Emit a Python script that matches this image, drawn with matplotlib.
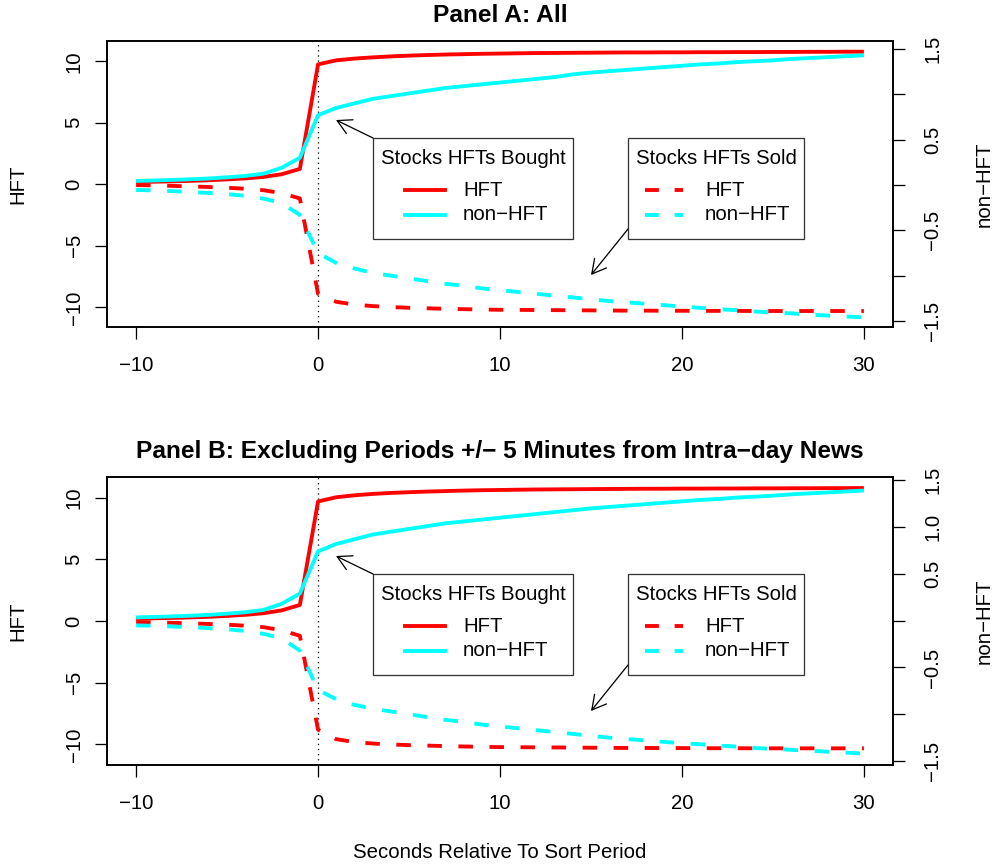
import matplotlib
matplotlib.use("Agg")
import matplotlib.pyplot as plt
from matplotlib.patches import Rectangle, FancyArrowPatch
from matplotlib.lines import Line2D

plt.rcParams['font.family'] = ['Liberation Sans', 'DejaVu Sans']

# ---------------- data ----------------
seconds = list(range(-10, 31))

# Panel A
a_hft_bought = [0.19, 0.21, 0.24, 0.28, 0.33, 0.40, 0.48, 0.60, 0.82, 1.25,
                9.75, 10.08, 10.22, 10.32, 10.40, 10.46, 10.51, 10.55, 10.58, 10.61,
                10.63, 10.65, 10.67, 10.68, 10.69, 10.70, 10.71, 10.72, 10.72, 10.73,
                10.73, 10.74, 10.74, 10.75, 10.75, 10.76, 10.76, 10.77, 10.77, 10.78, 10.78]
a_non_bought = [0.045, 0.05, 0.056, 0.063, 0.072, 0.085, 0.10, 0.125, 0.19, 0.30,
                0.77, 0.85, 0.90, 0.95, 0.98, 1.01, 1.04, 1.07, 1.09, 1.11,
                1.13, 1.15, 1.17, 1.19, 1.22, 1.24, 1.255, 1.27, 1.285, 1.30,
                1.315, 1.33, 1.34, 1.355, 1.365, 1.375, 1.39, 1.40, 1.41, 1.42, 1.43]
a_hft_sold = [-0.06, -0.09, -0.13, -0.17, -0.22, -0.28, -0.36, -0.48, -0.72, -1.15,
              -8.90, -9.55, -9.78, -9.90, -9.98, -10.04, -10.08, -10.12, -10.15, -10.18,
              -10.20, -10.21, -10.22, -10.23, -10.24, -10.25, -10.26, -10.27, -10.27, -10.28,
              -10.28, -10.29, -10.29, -10.29, -10.30, -10.30, -10.30, -10.30, -10.30, -10.30, -10.30]
a_non_sold = [-0.055, -0.06, -0.068, -0.077, -0.088, -0.10, -0.12, -0.15, -0.20, -0.33,
              -0.75, -0.86, -0.92, -0.97, -1.00, -1.03, -1.06, -1.09, -1.11, -1.14,
              -1.16, -1.18, -1.20, -1.22, -1.24, -1.26, -1.28, -1.295, -1.31, -1.325,
              -1.34, -1.355, -1.37, -1.38, -1.395, -1.405, -1.415, -1.43, -1.44, -1.45, -1.46]

# Panel B
b_hft_bought = [0.20, 0.22, 0.25, 0.29, 0.34, 0.41, 0.50, 0.63, 0.86, 1.30,
                9.68, 10.02, 10.18, 10.29, 10.37, 10.43, 10.48, 10.52, 10.56, 10.59,
                10.61, 10.63, 10.65, 10.66, 10.67, 10.68, 10.69, 10.70, 10.71, 10.71,
                10.72, 10.72, 10.73, 10.73, 10.74, 10.74, 10.75, 10.75, 10.76, 10.76, 10.77]
b_non_bought = [0.035, 0.04, 0.046, 0.053, 0.062, 0.075, 0.09, 0.115, 0.18, 0.29,
                0.74, 0.82, 0.87, 0.92, 0.95, 0.98, 1.01, 1.04, 1.06, 1.08,
                1.10, 1.12, 1.14, 1.16, 1.18, 1.20, 1.215, 1.23, 1.245, 1.26,
                1.275, 1.29, 1.30, 1.315, 1.325, 1.335, 1.35, 1.36, 1.37, 1.38, 1.39]
b_hft_sold = [-0.08, -0.11, -0.15, -0.19, -0.24, -0.30, -0.38, -0.50, -0.75, -1.20,
              -8.80, -9.57, -9.80, -9.92, -10.00, -10.05, -10.09, -10.13, -10.16, -10.19,
              -10.21, -10.22, -10.23, -10.24, -10.25, -10.26, -10.27, -10.28, -10.28, -10.29,
              -10.29, -10.30, -10.30, -10.30, -10.31, -10.31, -10.31, -10.31, -10.31, -10.31, -10.31]
b_non_sold = [-0.05, -0.055, -0.062, -0.07, -0.08, -0.092, -0.11, -0.14, -0.19, -0.32,
              -0.74, -0.84, -0.90, -0.94, -0.97, -1.00, -1.03, -1.06, -1.08, -1.11,
              -1.13, -1.15, -1.17, -1.19, -1.21, -1.23, -1.25, -1.265, -1.28, -1.295,
              -1.31, -1.32, -1.335, -1.345, -1.36, -1.37, -1.38, -1.39, -1.40, -1.41, -1.42]

x_ticks = [-10, 0, 10, 20, 30]
left_ticks = [-10, -5, 0, 5, 10]
right_ticks = [-1.5, -1.0, -0.5, 0.0, 0.5, 1.0, 1.5]
right_labels_a = ['\u22121.5', '', '\u22120.5', '', '0.5', '', '1.5']
right_labels_b = ['\u22121.5', '', '\u22120.5', '', '0.5', '1.0', '1.5']

title_a = "Panel A: All"
title_b = "Panel B: Excluding Periods +/\u2212 5 Minutes from Intra\u2212day News"

# ---------------- figure ----------------
W, H = 992, 867
fig = plt.figure(figsize=(W / 100, H / 100), dpi=100)

FS = 14.7
LW = 2.77
DASH = (0, (3.77, 4.3))
RED = '#FF0000'
CYAN = '#00FFFF'


def fx(px):
    return px / W


def fy(py):
    return 1 - py / H


def mlabel(v):
    return ('%g' % v).replace('-', '\u2212')


def make_panel(top, bottom, left_lim, right_lim, hb, nb, hs, ns, rlabels, title, dy):
    ax = fig.add_axes([fx(107), fy(bottom), (893 - 107) / W, (bottom - top) / H])
    ax.set_xlim(-11.6, 31.6)
    ax.set_ylim(*left_lim)
    ax.axvline(0, color='black', lw=0.92, linestyle=(0, (1, 3)))
    ax.plot(seconds, hb, color=RED, lw=LW, solid_capstyle='butt')
    ax.plot(seconds, hs, color=RED, lw=LW, linestyle=DASH, dash_capstyle='butt')
    ax.set_xticks(x_ticks)
    ax.set_xticklabels([mlabel(v) for v in x_ticks])
    ax.set_yticks(left_ticks)
    ax.set_yticklabels([mlabel(v) for v in left_ticks], rotation=90, va='center')
    ax.tick_params(axis='both', direction='out', length=8.9, width=0.92,
                   labelsize=FS, color='black')
    ax.tick_params(axis='x', pad=12)
    ax.tick_params(axis='y', pad=8)
    for s in ax.spines.values():
        s.set_linewidth(1.2)

    ax2 = ax.twinx()
    ax2.set_ylim(*right_lim)
    ax2.plot(seconds, nb, color=CYAN, lw=LW, solid_capstyle='butt')
    ax2.plot(seconds, ns, color=CYAN, lw=LW, linestyle=DASH, dash_capstyle='butt')
    ax2.set_yticks(right_ticks)
    ax2.set_yticklabels(rlabels, rotation=90, va='center')
    ax2.tick_params(axis='y', direction='out', length=8.9, width=0.92,
                    labelsize=FS, color='black', pad=13)
    for s in ax2.spines.values():
        s.set_linewidth(1.2)

    # title
    fig.text(fx(500), fy(top - 25), title, ha='center', va='center',
             fontsize=FS * 1.2, fontweight='bold')
    # axis labels
    fig.text(fx(18), fy((top + bottom) / 2), 'HFT', rotation=90,
             ha='center', va='center', fontsize=FS)
    fig.text(fx(984), fy((top + bottom) / 2), 'non\u2212HFT', rotation=90,
             ha='center', va='center', fontsize=FS)

    def box(l, t, r, b):
        fig.add_artist(Rectangle((fx(l), fy(b)), fx(r) - fx(l), fy(t) - fy(b),
                                 transform=fig.transFigure, fill=True,
                                 facecolor='white', edgecolor='#333333', lw=0.92))

    def seg(x0, x1, y, color, ls):
        fig.add_artist(Line2D([fx(x0), fx(x1)], [fy(y), fy(y)], transform=fig.transFigure,
                              color=color, lw=LW, linestyle=ls, dash_capstyle='butt'))

    # legend 1
    box(373, 138 + dy, 573, 239 + dy)
    fig.text(fx(473), fy(158 + dy), 'Stocks HFTs Bought', ha='center', va='center', fontsize=FS)
    seg(405, 445, 190 + dy, RED, '-')
    seg(405, 445, 215 + dy, CYAN, '-')
    fig.text(fx(463), fy(190 + dy), 'HFT', ha='left', va='center', fontsize=FS)
    fig.text(fx(463), fy(215 + dy), 'non\u2212HFT', ha='left', va='center', fontsize=FS)

    # legend 2
    box(628, 138 + dy, 804, 239 + dy)
    fig.text(fx(716), fy(158 + dy), 'Stocks HFTs Sold', ha='center', va='center', fontsize=FS)
    seg(645, 683, 190 + dy, RED, (0, (3.6, 4.1)))
    seg(645, 683, 215 + dy, CYAN, (0, (3.6, 4.1)))
    fig.text(fx(705), fy(190 + dy), 'HFT', ha='left', va='center', fontsize=FS)
    fig.text(fx(705), fy(215 + dy), 'non\u2212HFT', ha='left', va='center', fontsize=FS)

    # arrows
    aprops = dict(arrowstyle='->, head_length=10, head_width=5.5', mutation_scale=1,
                  lw=0.92, color='black', shrinkA=0, shrinkB=0)
    fig.add_artist(FancyArrowPatch(
        (fx(373), fy(138 + dy)), (fx(336), fy(120 + dy)), transform=fig.transFigure, **aprops))
    fig.add_artist(FancyArrowPatch(
        (fx(628), fy(229 + dy)), (fx(591), fy(275 + dy)), transform=fig.transFigure, **aprops))
    return ax


make_panel(41, 327, (-11.6, 11.65), (-1.566, 1.588),
           a_hft_bought, a_non_bought, a_hft_sold, a_non_sold, right_labels_a, title_a, 0)
make_panel(477, 765, (-11.66, 11.66), (-1.542, 1.535),
           b_hft_bought, b_non_bought, b_hft_sold, b_non_sold, right_labels_b, title_b, 436)

fig.text(fx(500), fy(852), 'Seconds Relative To Sort Period', ha='center', va='center', fontsize=FS)

fig.savefig('out.png', dpi=100)
